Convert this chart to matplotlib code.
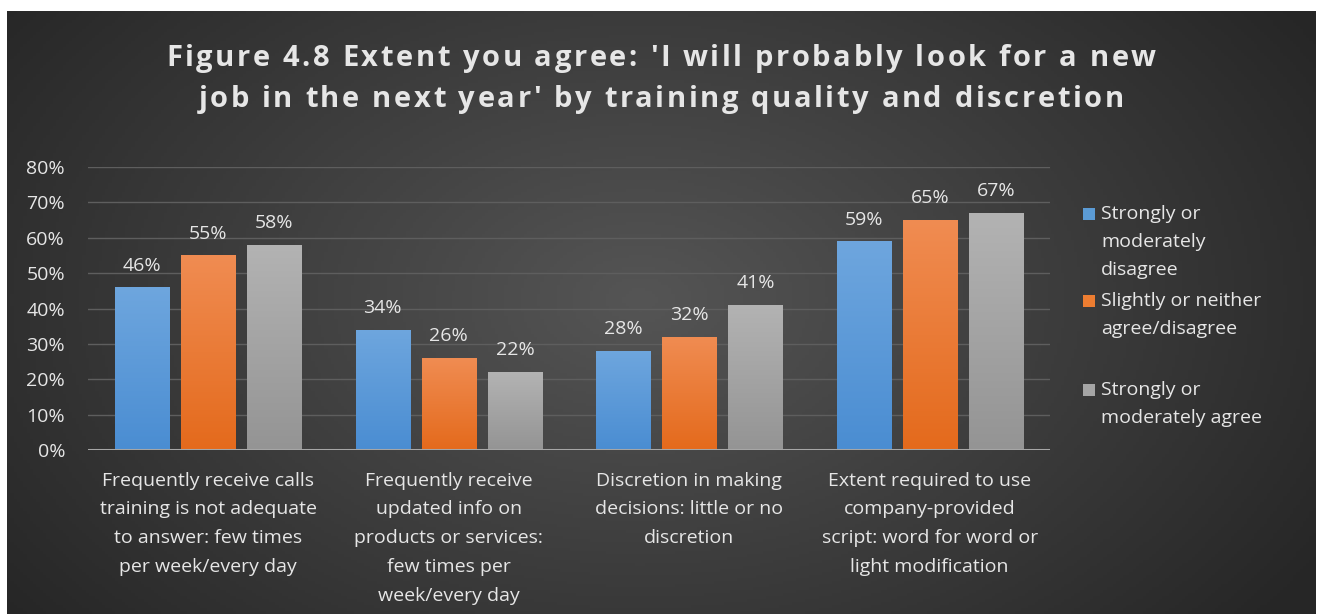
import numpy as np
import matplotlib.pyplot as plt
from matplotlib.patches import Rectangle
from matplotlib import font_manager
from matplotlib.ft2font import FT2Font
from matplotlib.colors import to_rgb

categories = [
    "Frequently receive calls\ntraining is not adequate\nto answer: few times\nper week/every day",
    "Frequently receive\nupdated info on\nproducts or services:\nfew times per\nweek/every day",
    "Discretion in making\ndecisions: little or no\ndiscretion",
    "Extent required to use\ncompany-provided\nscript: word for word or\nlight modification",
]
series_names = [
    "Strongly or\nmoderately\ndisagree",
    "Slightly or neither\nagree/disagree",
    "Strongly or\nmoderately agree",
]
disagree = [46, 34, 28, 59]
neither = [55, 26, 32, 65]
agree = [58, 22, 41, 67]
series_values = [disagree, neither, agree]
yticks = [0, 10, 20, 30, 40, 50, 60, 70, 80]
title_lines = [
    "Figure 4.8 Extent you agree: 'I will probably look for a new",
    "job in the next year' by training quality and discretion",
]

# (top, bottom) gradient colours for each series
bar_colors = [("#6ea6de", "#4a8dd2"), ("#f08c52", "#e46a1c"), ("#b3b3b3", "#949494")]
legend_colors = ["#5b9bd5", "#ed7d31", "#a5a5a5"]
text_color = "#e6e6e6"
font = "Open Sans"
fs = 14

W, H = 1323, 614
fig = plt.figure(figsize=(W / 100, H / 100), dpi=100)
fig.patch.set_facecolor("white")

# Dark panel with a soft radial glow (pixel coordinates, y downwards)
bg = fig.add_axes([0, 0, 1, 1])
bg.set_xlim(0, W)
bg.set_ylim(H, 0)
bg.axis("off")
px0, px1, py0, py1 = 7, 1316, 11, 614
xx, yy = np.meshgrid(np.linspace(px0, px1, 400), np.linspace(py0, py1, 200))
r = np.sqrt(((xx - 640) / 800) ** 2 + ((yy - 300) / 520) ** 2)
r = np.clip(r, 0, 1)
light = np.array([0x55, 0x55, 0x55]) / 255
dark = np.array([0x26, 0x26, 0x26]) / 255
img = light[None, None, :] * (1 - r[..., None]) + dark[None, None, :] * r[..., None]
bg.imshow(img, extent=(px0, px1, py1, py0), aspect="auto", zorder=0)

ax = fig.add_axes([88 / W, 1 - 450 / H, (1050 - 88) / W, (450 - 167) / H])
ax.set_facecolor("none")

x = np.arange(len(categories))
width = 0.225
offsets = [-0.275, 0, 0.275]

for vals, off, (ctop, cbot) in zip(series_values, offsets, bar_colors):
    bars = ax.bar(x + off, vals, width, color=cbot, zorder=3, linewidth=0)
    grad = np.linspace(0, 1, 256)[:, None]
    c1, c2 = np.array(to_rgb(ctop)), np.array(to_rgb(cbot))
    g = c1[None, None, :] * (1 - grad[..., None]) + c2[None, None, :] * grad[..., None]
    g = np.repeat(g, 2, axis=1)
    for b, v in zip(bars, vals):
        im = ax.imshow(g, extent=(b.get_x(), b.get_x() + b.get_width(), 0, v),
                       aspect="auto", zorder=4, origin="upper")
        im.set_clip_path(b)
        ax.text(b.get_x() + b.get_width() / 2, v + 3.6, f"{v}%", ha="center", va="bottom",
                color=text_color, fontsize=fs, family=font, zorder=5)

ax.set_xlim(-0.5, len(categories) - 0.5)
ax.set_ylim(0, 80)
ax.set_yticks(yticks)
ax.set_yticklabels([f"{t}%" for t in yticks], color=text_color, fontsize=fs, family=font)
ax.set_xticks(x)
ax.set_xticklabels(categories, color=text_color, fontsize=fs, family=font, linespacing=1.78)
ax.tick_params(axis="both", length=0)
ax.tick_params(axis="y", pad=16.5)
ax.tick_params(axis="x", pad=15.5)
for s in ax.spines.values():
    s.set_visible(False)
ax.grid(axis="y", color="#5e5e5e", linewidth=1, zorder=1)
ax.axhline(0, color="#a6a6a6", linewidth=2.2, zorder=6)


def glyph_advances(text, prop, size_pt):
    ft = FT2Font(font_manager.findfont(prop))
    ft.set_size(size_pt, 100)
    return [ft.load_char(ord(c)).linearHoriAdvance / 65536 for c in text]


# Letter-spaced bold title
tprop = font_manager.FontProperties(family=font, weight="bold", size=21)
adv_lines = [glyph_advances(t, tprop, 21) for t in title_lines]
natural = sum(adv_lines[0])
spacing = (990 - natural) / (len(title_lines[0]) - 1)
for line, advs, base in zip(title_lines, adv_lines, [66, 107]):
    total = sum(advs) + spacing * (len(line) - 1)
    cx = 661 - total / 2
    for ch, a in zip(line, advs):
        if ch != " ":
            bg.text(cx, base, ch, ha="left", va="baseline", color=text_color,
                    fontproperties=tprop, zorder=3)
        cx += a + spacing

# Legend
leg_rows = [214, 301, 390]
for name, col, yc in zip(series_names, legend_colors, leg_rows):
    bg.add_patch(Rectangle((1083, yc - 6), 12, 12, facecolor=col, edgecolor="none", zorder=3))
    for k, part in enumerate(name.split("\n")):
        bg.text(1101, yc + 28 * k, part, ha="left", va="center", color=text_color,
                fontsize=fs, family=font, zorder=3)

fig.savefig("out.png", dpi=100, facecolor=fig.get_facecolor())
